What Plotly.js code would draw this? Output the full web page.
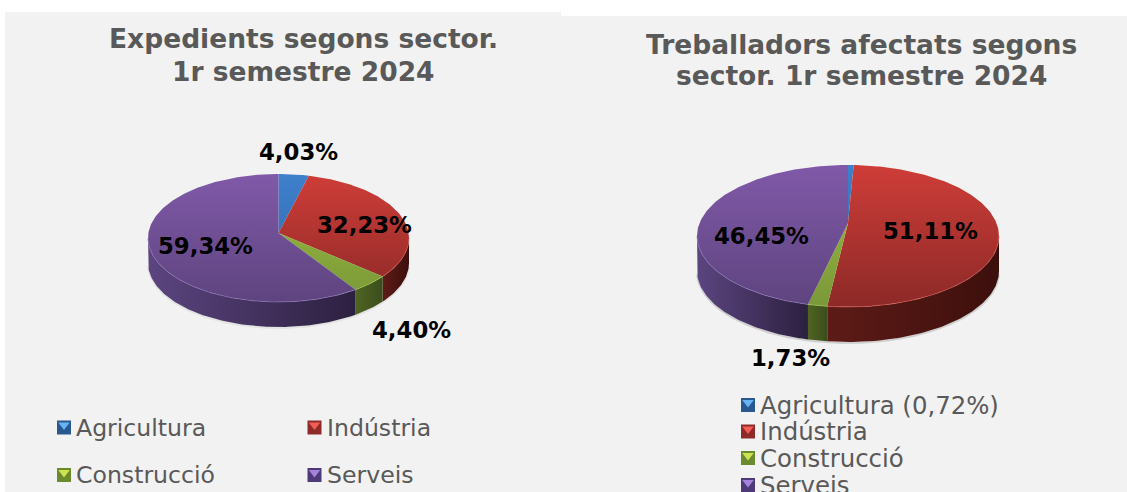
<!DOCTYPE html>
<html>
<head>
<meta charset="utf-8">
<script src="https://cdn.plot.ly/plotly-3.0.1.min.js"></script>
<style>html,body{margin:0;padding:0;background:#fff;overflow:hidden}</style>
</head>
<body>
<div id="chart" style="width:1127px;height:492px"></div>
<script>
// ---- Data ----
const sectorsLeft = ['Agricultura', 'Indústria', 'Construcció', 'Serveis'];
const sectorsRight = ['Agricultura (0,72%)', 'Indústria', 'Construcció', 'Serveis'];
const expedients = [4.03, 32.23, 4.40, 59.34];
const treballadors = [0.72, 51.11, 1.73, 46.45];
const titleLeft = ['Expedients segons sector.', '1r semestre 2024'];
const titleRight = ['Treballadors afectats segons', 'sector. 1r semestre 2024'];

// ---- Style ----
const topGrad = [['#3f80cc', '#2c66a8'], ['#cf3d38', '#8c2927'], ['#9dbd40', '#7a9838'], ['#8059a8', '#5e447f']];
const sideGrad = [['#24507f', '#1c3f66'], ['#5e1b17', '#3c0f0c'], ['#4f6423', '#3b4d1b'], ['#5c4580', '#2c2040']];
const rimCol = ['#5a9ae0', '#dd5a55', '#aecb5c', '#9478c0'];
const keyDark = ['#28588f', '#8e2b29', '#6b8a2d', '#4e3a78'];
const keyLight = ['#66b2f2', '#f25d58', '#cde353', '#a583dc'];
const pieL = {cx: 278.5, cy: 238, apex: 233, rx: 130.5, ry: 64, depth: 25};
const pieR = {cx: 848, cy: 236, apex: 223, rx: 151, ry: 71, depth: 35};
const labL = [[298.5, 151.5], [364, 224.5], [411, 329.5], [205.5, 245.5]];
const labR = [null, [930.5, 230.5], [790.5, 357.5], [761, 235.5]];
const keyL = [[64, 427.5], [314.5, 427.5], [64, 475], [314.5, 475]];
const keyR = [[748, 405], [748, 431.5], [748, 458], [748, 485]];

// circle -> ellipse with perspective, so that the true centre lands on the apex
function arc(p, a0, a1, dy) {
  const k = (p.apex - p.cy) / p.ry, q = Math.sqrt(1 - k * k);
  const xs = [], ys = [], n = Math.max(2, Math.ceil(Math.abs(a1 - a0)));
  for (let i = 0; i <= n; i++) {
    const t = (a0 + (a1 - a0) * i / n) * Math.PI / 180;
    const u = Math.sin(t), v = -Math.cos(t), d = 1 + k * v;
    xs.push(p.cx + p.rx * u * q / d);
    ys.push(p.cy + p.ry * (v + k) / d + (dy || 0));
  }
  return [xs, ys];
}
const traces = [];
function pie(p, vals, shadow) {
  const sum = vals.reduce((a, b) => a + b, 0);
  const lim = Math.acos((p.apex - p.cy) / p.ry) * 180 / Math.PI;
  const spans = [];
  let acc = 0;
  vals.forEach(v => { spans.push([acc / sum * 360, (acc + v) / sum * 360]); acc += v; });
  // soft shadow below the rim
  const sh = arc(p, lim + 2, 358 - lim, p.depth + 1);
  traces.push({type: 'scatter', mode: 'lines', x: sh[0], y: sh[1], line: {color: 'rgba(0,0,0,' + shadow + ')', width: 2}, hoverinfo: 'skip'});
  // side faces (front half only)
  spans.forEach((s, i) => {
    const a0 = Math.max(s[0], lim), a1 = Math.min(s[1], 360 - lim);
    if (a1 <= a0) return;
    const up = arc(p, a0, a1, 0), lo = arc(p, a1, a0, p.depth);
    traces.push({type: 'scatter', mode: 'lines', x: up[0].concat(lo[0]), y: up[1].concat(lo[1]),
      fill: 'toself', line: {width: 0, color: sideGrad[i][0]}, hoverinfo: 'skip',
      fillgradient: {type: 'horizontal', colorscale: [[0, sideGrad[i][0]], [1, sideGrad[i][1]]]}});
  });
  // top faces
  spans.forEach((s, i) => {
    const a = arc(p, s[0], s[1], 0);
    traces.push({type: 'scatter', mode: 'lines', x: [p.cx].concat(a[0], [p.cx]), y: [p.apex].concat(a[1], [p.apex]),
      fill: 'toself', line: {width: 0, color: topGrad[i][0]}, hoverinfo: 'skip',
      fillgradient: {type: 'vertical', start: p.cy - p.ry, stop: p.cy + p.ry,
        colorscale: [[0, topGrad[i][0]], [1, topGrad[i][1]]]}});
  });
  // bright rim along the front edge
  spans.forEach((s, i) => {
    const a0 = Math.max(s[0], lim), a1 = Math.min(s[1], 360 - lim);
    if (a1 <= a0) return;
    const r = arc(p, a0, a1, 0);
    traces.push({type: 'scatter', mode: 'lines', x: r[0], y: r[1], line: {color: rimCol[i], width: 1}, opacity: 0.6, hoverinfo: 'skip'});
  });
}
pie(pieL, expedients, 0.06);
pie(pieR, treballadors, 0.14);

function keys(pos) {
  pos.forEach((q, i) => {
    traces.push({type: 'scatter', mode: 'markers', x: [q[0]], y: [q[1]], hoverinfo: 'skip',
      marker: {symbol: 'square', size: 14, color: keyDark[i], line: {width: 0}}});
    traces.push({type: 'scatter', mode: 'markers', x: [q[0]], y: [q[1] - 2.5], hoverinfo: 'skip',
      marker: {symbol: 'triangle-down', size: 10, color: keyLight[i], line: {width: 0}}});
  });
}
keys(keyL);
keys(keyR);

const fmt = v => v.toFixed(2).replace('.', ',') + '%';
const anns = [];
function title(lines, x, ys) {
  lines.forEach((t, i) => anns.push({text: '<b>' + t + '</b>', x, y: ys[i], xref: 'x', yref: 'y', showarrow: false,
    xanchor: 'center', yanchor: 'middle', align: 'center',
    font: {family: 'DejaVu Sans', size: 26.5, color: '#595959'}}));
}
title(titleLeft, 303.5, [38.5, 71.5]);
title(titleRight, 861, [44, 75.5]);
function valLabels(vals, pos) {
  vals.forEach((v, i) => {
    if (!pos[i]) return;
    anns.push({text: '<b>' + fmt(v) + '</b>', x: pos[i][0], y: pos[i][1], xref: 'x', yref: 'y', showarrow: false,
      xanchor: 'center', yanchor: 'middle', font: {family: 'DejaVu Sans', size: 22.8, color: '#000'}});
  });
}
valLabels(expedients, labL);
valLabels(treballadors, labR);
function keyText(names, pos, size) {
  names.forEach((n, i) => {
    anns.push({text: n, x: pos[i][0] + 10, y: pos[i][1], xref: 'x', yref: 'y', showarrow: false, xanchor: 'left', yanchor: 'middle',
      font: {family: 'DejaVu Sans', size, color: '#595959'}});
  });
}
keyText(sectorsLeft, keyL, 23.6);
keyText(sectorsRight, keyR, 24.4);

const layout = {
  width: 1127, height: 492, autosize: false, showlegend: false,
  margin: {l: 0, r: 0, t: 0, b: 0, pad: 0},
  paper_bgcolor: '#ffffff', plot_bgcolor: '#ffffff',
  xaxis: {range: [0, 1127], visible: false, fixedrange: true},
  yaxis: {range: [492, 0], visible: false, fixedrange: true},
  shapes: [
    {type: 'rect', xref: 'x', yref: 'y', x0: 5, x1: 561, y0: 12, y1: 492, fillcolor: '#f2f2f2', line: {width: 0}, layer: 'below'},
    {type: 'rect', xref: 'x', yref: 'y', x0: 561, x1: 1127, y0: 16, y1: 492, fillcolor: '#f2f2f2', line: {width: 0}, layer: 'below'}
  ],
  annotations: anns
};
Plotly.newPlot('chart', traces, layout, {displayModeBar: false, responsive: false});
</script>
</body>
</html>
